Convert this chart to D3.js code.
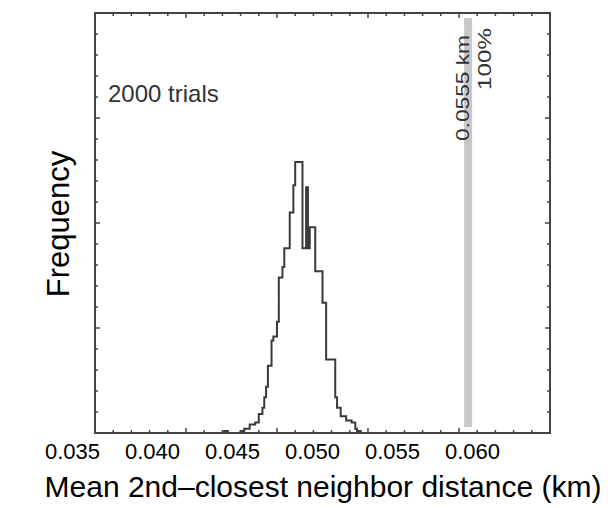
<!DOCTYPE html>
<html>
<head>
<meta charset="utf-8">
<script src="https://cdn.jsdelivr.net/npm/d3@7"></script>
<style>
    body { margin: 0; background: #fff; }
    svg { font-family: Arial, "Liberation Sans", sans-serif; }
    .frame { fill: none; stroke: #444; stroke-width: 2; }
    .tick-mark { stroke: #444; stroke-width: 1.5; }
    .hist { fill: none; stroke: #3a3a3a; stroke-width: 2; }
</style>
</head>
<body>
<div id="chart"></div>
<script>

// histogram of the simulated means (2000 trials), bins of 0.0001 km
var binStart = 0.0421;
var binWidth = 0.0001;
var counts = [
    1, 1, 0, 0, 0, 0, 0, 0, 0,
    1, 1, 2, 2, 2, 4, 4, 4, 5, 5,
    9, 9, 12, 17, 22, 32, 32, 44, 46, 46,
    53, 74, 74, 79, 88, 88, 88, 105, 105, 118,
    129, 129, 129, 129, 88, 88, 117, 88, 98, 98,
    98, 77, 77, 77, 77, 62, 62, 35, 35, 35,
    35, 35, 17, 12, 12, 8, 8, 8, 6, 6,
    6, 5, 5, 2, 1, 1
];

// observed value
var observed = 0.0555;
var observedLabel = "0.0555 km";
var percentLabel = "100%";
var trialsLabel = "2000 trials";

var xTickValues = [0.035, 0.040, 0.045, 0.050, 0.055, 0.060];
var xTitle = "Mean 2nd\u2013closest neighbor distance (km)";
var yTitle = "Frequency";


var width = 610, height = 508;

var svg = d3.select("#chart")
    .append("svg")
    .attr("width", width)
    .attr("height", height);

var x = d3.scaleLinear().domain([0.035, 0.060]).range([95, 550]);
var y = d3.scaleLinear().domain([0, 200]).range([433, 13]);

// the printed tick labels sit on their own spacing under the frame
var xLabel = d3.scaleLinear().domain([0.035, 0.060]).range([72, 472]);

// minor / major ticks, pointing inward on all four sides
var xMinor = d3.range(0, 26).map(function (i) { return 0.035 + i * 0.001; });
var yMinor = d3.range(0, 21).map(function (i) { return i * 10; });

var ticks = svg.append("g");
xMinor.forEach(function (v, i) {
    var len = (i % 5 === 0) ? 5 : 3;
    ticks.append("line").attr("class", "tick-mark")
        .attr("x1", x(v)).attr("x2", x(v))
        .attr("y1", y(0)).attr("y2", y(0) - len);
    ticks.append("line").attr("class", "tick-mark")
        .attr("x1", x(v)).attr("x2", x(v))
        .attr("y1", y(200)).attr("y2", y(200) + len);
});
yMinor.forEach(function (v, i) {
    var len = (i % 5 === 0) ? 5 : 3;
    ticks.append("line").attr("class", "tick-mark")
        .attr("x1", x(0.035)).attr("x2", x(0.035) + len)
        .attr("y1", y(v)).attr("y2", y(v));
    ticks.append("line").attr("class", "tick-mark")
        .attr("x1", x(0.060)).attr("x2", x(0.060) - len)
        .attr("y1", y(v)).attr("y2", y(v));
});

// grey bar at the observed value
svg.append("rect")
    .attr("x", x(observed) - 4)
    .attr("width", 8)
    .attr("y", 18)
    .attr("height", 427 - 18)
    .attr("fill", "#c8c8c8");

// histogram outline
var pts = [[binStart, 0]];
counts.forEach(function (c, i) {
    pts.push([binStart + i * binWidth, c]);
});
pts.push([binStart + counts.length * binWidth, 0]);

var step = d3.line()
    .x(function (d) { return x(d[0]); })
    .y(function (d) { return y(d[1]); })
    .curve(d3.curveStepAfter);

svg.append("path")
    .attr("class", "hist")
    .attr("d", step(pts));

// frame
svg.append("rect")
    .attr("class", "frame")
    .attr("x", x(0.035)).attr("y", y(200))
    .attr("width", x(0.060) - x(0.035))
    .attr("height", y(0) - y(200));

// annotations
svg.append("text")
    .attr("x", 108).attr("y", 102)
    .attr("font-size", 24)
    .attr("fill", "#333")
    .text(trialsLabel);

svg.append("text")
    .attr("transform", "translate(469," + 141 + ") rotate(-90)")
    .attr("font-size", 19)
    .attr("fill", "#333")
    .attr("textLength", 106)
    .attr("lengthAdjust", "spacingAndGlyphs")
    .text(observedLabel);

svg.append("text")
    .attr("transform", "translate(491," + 90 + ") rotate(-90)")
    .attr("font-size", 19)
    .attr("fill", "#333")
    .attr("textLength", 62)
    .attr("lengthAdjust", "spacingAndGlyphs")
    .text(percentLabel);

// x tick labels
var xAxis = svg.append("g")
    .attr("transform", "translate(0,443)")
    .call(d3.axisBottom(xLabel)
        .tickValues(xTickValues)
        .tickSize(0)
        .tickPadding(0)
        .tickFormat(d3.format(".3f")));
xAxis.select(".domain").remove();
xAxis.selectAll("text")
    .attr("font-family", "Arial, 'Liberation Sans', sans-serif")
    .attr("font-size", 22)
    .attr("fill", "#000")
    .attr("dy", "0.71em");

// axis titles
svg.append("text")
    .attr("x", 323).attr("y", 497)
    .attr("text-anchor", "middle")
    .attr("font-size", 30)
    .attr("fill", "#000")
    .text(xTitle);

svg.append("text")
    .attr("transform", "translate(69,224) rotate(-90)")
    .attr("text-anchor", "middle")
    .attr("font-size", 31)
    .attr("fill", "#000")
    .text(yTitle);

</script>
</body>
</html>
